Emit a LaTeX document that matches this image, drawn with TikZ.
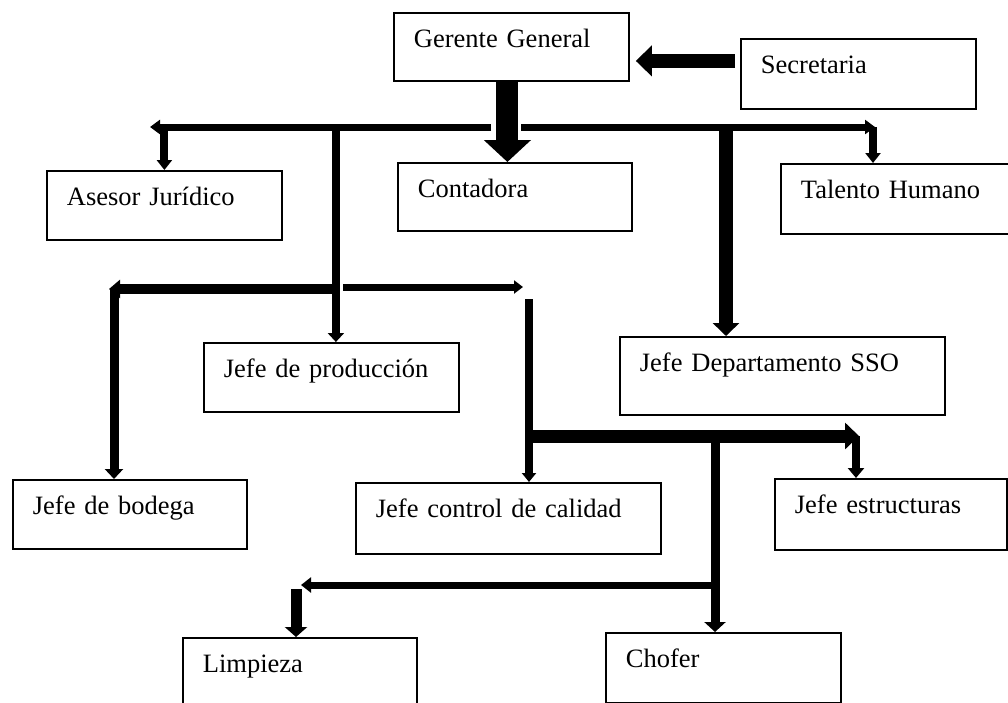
\documentclass[tikz,border=0pt]{standalone}
\usepackage{fontspec}
\setmainfont{Liberation Serif}
\usetikzlibrary{arrows.meta}
\newcommand{\orgfont}{\fontsize{26.5}{30}\selectfont}
\tikzset{
  orgbox/.style 2 args = {draw, line width=1.8pt, anchor=north west, align=left,
                   text width=#1, text height=20pt, text depth=#2,
                   inner xsep=20pt, inner ysep=15pt, font=\orgfont},
  flow/.style n args = {3}{line width=#1, -{Triangle[width=#2,length=#3]}},
}
\begin{document}
\begin{tikzpicture}[x=1pt,y=-1pt]
    \useasboundingbox (0,0) rectangle (1008,702);
    % boxes
    \node[orgbox={195pt}{18pt}] (gg) at (393,12) {Gerente General};
    \node[orgbox={195pt}{20pt}] (sec) at (740,38) {Secretaria};
    \node[orgbox={195pt}{19pt}] (ases) at (46,170) {Asesor Jurídico};
    \node[orgbox={194pt}{18pt}] (cont) at (397,162) {Contadora};
    \node[orgbox={195pt}{20pt}] (tal) at (780,163) {Talento Humano};
    \node[orgbox={215pt}{19pt}] (prod) at (203,342) {Jefe de producción};
    \node[orgbox={285pt}{28pt}] (sso) at (619,336) {Jefe Departamento SSO};
    \node[orgbox={194pt}{19pt}] (bod) at (12,479) {Jefe de bodega};
    \node[orgbox={265pt}{21pt}] (cal) at (355,482) {Jefe control de calidad};
    \node[orgbox={192pt}{21pt}] (estr) at (774,478) {Jefe estructuras};
    \node[orgbox={194pt}{20pt}] (limp) at (182,637) {Limpieza};
    \node[orgbox={195pt}{20pt}] (chof) at (605,632) {Chofer};
    % bus points
    \coordinate (topM) at (506,127);
    \coordinate (topL) at (150,127);
    \coordinate (topR) at (875,127);
    \coordinate (ssox) at (726,127);
    \coordinate (midM) at (335,289);
    \coordinate (midL) at (109,289);
    \coordinate (midS) at (343,287);
    \coordinate (midR) at (523,287);
    \coordinate (calx) at (529,299);
    \coordinate (lowL) at (529,436);
    \coordinate (lowR) at (859,436);
    \coordinate (chofx) at (715,443);
    \coordinate (limR) at (715,585);
    \coordinate (limL) at (301,585);
    % connectors
    \draw[flow={14pt}{30pt}{16pt}] ([shift={(-5,-13)}]sec.west) -- ([shift={(6,14)}]gg.east);
    \draw[flow={22pt}{46pt}{22pt}] ([xshift=-4pt]gg.south) -- ([xshift=-4pt]gg.south |- cont.north);
    \draw[flow={7pt}{14pt}{10pt}] ([xshift=-15pt]topM) -- (topL);
    \draw[flow={7pt}{14pt}{10pt}] ([xshift=15pt]topM) -- (topR);
    \draw[flow={8pt}{15pt}{10pt}] (ases.north |- topL) -- (ases.north);
    \draw[flow={8pt}{15pt}{10pt}] ([xshift=-2pt]topR) -- ([xshift=-2pt]topR |- tal.north);
    \draw[flow={14pt}{26pt}{13pt}] (ssox) -- (ssox |- sso.north);
    \draw[flow={8pt}{16pt}{9pt}] ([xshift=4.5pt]prod.north |- topL) -- ([xshift=4.5pt]prod.north);
    \draw[flow={10pt}{18pt}{11pt}] (midM) -- (midL);
    \draw[flow={9pt}{18pt}{10pt}] ([xshift=5pt]midL) -- ([xshift=5pt]midL |- bod.north);
    \draw[flow={7pt}{13pt}{9pt}] (midS) -- (midR);
    \draw[flow={8pt}{14pt}{9pt}] (calx) -- (calx |- cal.north);
    \draw[flow={13pt}{26pt}{14pt}] ([xshift=-4pt]lowL) -- (lowR);
    \draw[flow={8pt}{16pt}{10pt}] ([xshift=-3pt]lowR) -- ([xshift=-3pt]lowR |- estr.north);
    \draw[flow={9pt}{21pt}{10pt}] (chofx) -- (chofx |- chof.north);
    \draw[flow={7pt}{15pt}{10pt}] ([xshift=2pt]limR) -- (limL);
    \draw[flow={11pt}{22pt}{10pt}] ([shift={(-5,4)}]limL) -- ([xshift=-5pt]limL |- limp.north);
\end{tikzpicture}
\end{document}
